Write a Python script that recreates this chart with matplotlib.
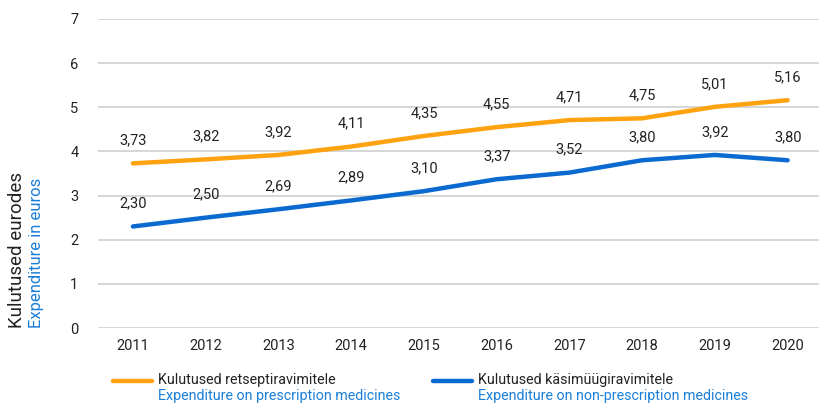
import matplotlib
matplotlib.use("Agg")
import matplotlib.pyplot as plt

plt.rcParams['font.family'] = ['Roboto', 'DejaVu Sans']

years = ["2011", "2012", "2013", "2014", "2015", "2016", "2017", "2018", "2019", "2020"]
prescription = [3.73, 3.82, 3.92, 4.11, 4.35, 4.55, 4.71, 4.75, 5.01, 5.16]
nonprescription = [2.30, 2.50, 2.69, 2.89, 3.10, 3.37, 3.52, 3.80, 3.92, 3.80]
yticks = [0, 1, 2, 3, 4, 5, 6, 7]

ORANGE = "#FFA20F"
BLUE = "#0A6ACF"
TXTBLUE = "#1B7FD8"
GRID = "#D0D0D0"
TXT = "#222222"

fig = plt.figure(figsize=(8.19, 4.03), dpi=100)
ax = fig.add_axes([98/819, 1-328/403, (824-98)/819, (328-19)/403])

x = list(range(len(years)))
ax.plot(x, prescription, color=ORANGE, lw=3.2, solid_capstyle='round', zorder=3)
ax.plot(x, nonprescription, color=BLUE, lw=3.2, solid_capstyle='round', zorder=3)

for xi, v in zip(x, prescription):
    ax.annotate(f"{v:.2f}".replace(".", ","), (xi, v), xytext=(0, 16.5), textcoords='offset points',
                ha='center', va='center', fontsize=10.5, color=TXT)
for xi, v in zip(x, nonprescription):
    ax.annotate(f"{v:.2f}".replace(".", ","), (xi, v), xytext=(0, 16.5), textcoords='offset points',
                ha='center', va='center', fontsize=10.5, color=TXT)

ax.set_xlim(-0.48, 9.5)
ax.set_ylim(0, 7)
ax.set_yticks(yticks)
ax.set_yticklabels([str(t) for t in yticks])
ax.set_xticks(x)
ax.set_xticklabels(years)
ax.grid(axis='y', color=GRID, lw=1.2)
ax.set_axisbelow(True)
for s in ax.spines.values():
    s.set_visible(False)
ax.tick_params(axis='both', length=0, labelsize=10.5, colors=TXT)
ax.tick_params(axis='y', pad=14)
ax.tick_params(axis='x', pad=8)

# y-axis title (two lines, two colours)
fig.text(17/819, 1-328/403, "Kulutused eurodes", rotation=90, ha='center', va='bottom',
         fontsize=13.5, color=TXT)
fig.text(37/819, 1-328/403, "Expenditure in euros", rotation=90, ha='center', va='bottom',
         fontsize=12, color=TXTBLUE)

# legend
def leg(x0, x1, tx, c, l1, l2):
    fig.add_artist(plt.Line2D([x0/819, x1/819], [1-381/403, 1-381/403], color=c, lw=3.2,
                              solid_capstyle='round', transform=fig.transFigure))
    fig.text(tx/819, 1-380/403, l1, ha='left', va='center', fontsize=10.3, color=TXT)
    fig.text(tx/819, 1-396/403, l2, ha='left', va='center', fontsize=10.3, color=TXTBLUE)

leg(113, 152, 158, ORANGE, "Kulutused retseptiravimitele", "Expenditure on prescription medicines")
leg(433, 472, 478, BLUE, "Kulutused käsimüügiravimitele", "Expenditure on non-prescription medicines")

fig.savefig("out.png", dpi=100)
